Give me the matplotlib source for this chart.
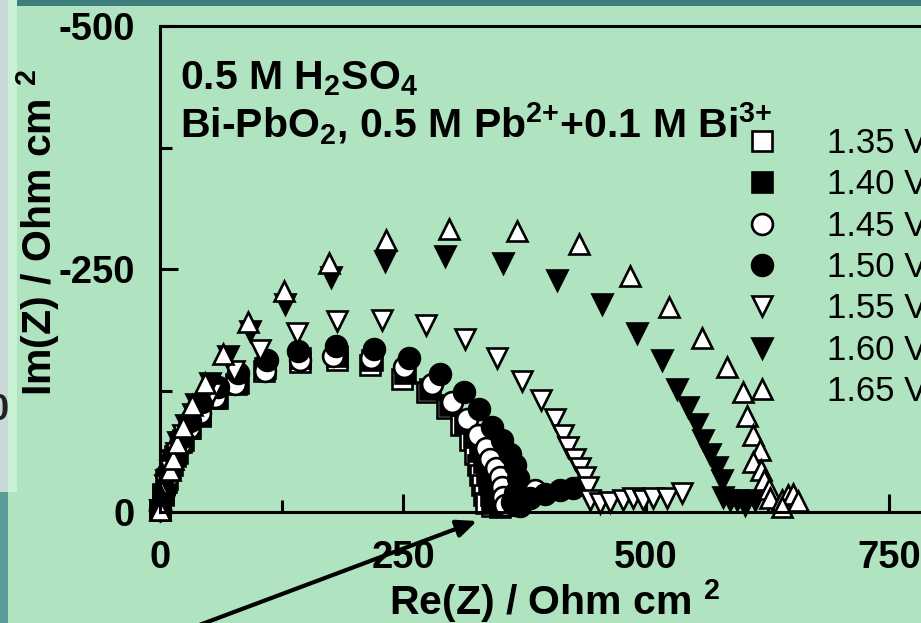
import matplotlib
matplotlib.use("Agg")
import matplotlib.pyplot as plt
from matplotlib.ticker import FixedLocator

plt.rcParams['font.family'] = ['Liberation Sans', 'DejaVu Sans']
plt.rcParams['axes.unicode_minus'] = False
plt.rcParams['mathtext.fontset'] = 'custom'
plt.rcParams['mathtext.rm'] = 'Liberation Sans'
plt.rcParams['mathtext.bf'] = 'Liberation Sans:bold'
plt.rcParams['mathtext.it'] = 'Liberation Sans:italic'

# Impedance spectra, Re(Z) and Im(Z) in Ohm cm^2
potentials = ['1.35 V', '1.40 V', '1.45 V', '1.50 V', '1.55 V', '1.60 V', '1.65 V']

re_135 = [0, 3, 6, 10, 15, 22, 30, 41, 57, 78, 107, 144, 182, 216, 249, 275, 295, 310,
          319, 324, 327, 329, 331, 333, 335, 342, 350]
im_135 = [-2, -17, -31, -45, -58, -72, -86, -100, -117, -132, -145, -154, -156, -151, -137,
          -123, -107, -89, -74, -60, -48, -38, -28, -17, -9, -6, -8]

re_140 = [0, 3, 7, 12, 17, 24, 31, 41, 59, 80, 108, 144, 182, 218, 252, 278, 298, 314,
          323, 329, 333, 336, 338, 341, 343, 350, 358]
im_140 = [-2, -19, -34, -48, -61, -74, -86, -99, -117, -133, -148, -158, -160, -156, -143,
          -127, -110, -92, -77, -63, -51, -40, -29, -18, -9, -5, -7]

re_145 = [0, 4, 8, 13, 21, 30, 41, 57, 77, 108, 144, 178, 217, 251, 280, 300, 316, 327,
          335, 340, 346, 350, 352, 353, 355, 365, 375, 386]
im_145 = [-2, -21, -37, -53, -70, -86, -102, -118, -132, -145, -156, -160, -158, -149, -132,
          -113, -96, -79, -66, -55, -45, -36, -26, -15, -7, -7, -15, -23]

re_150 = [0, 4, 8, 14, 22, 31, 43, 60, 80, 110, 142, 181, 220, 256, 288, 313, 328, 342,
          352, 360, 365, 368, 365, 362, 370, 381, 396, 412, 425]
im_150 = [-2, -23, -41, -58, -76, -94, -113, -129, -143, -156, -166, -171, -168, -158, -142,
          -123, -106, -87, -74, -60, -48, -35, -20, -10, -6, -14, -19, -23, -25]

re_155 = [0, 5, 10, 16, 24, 34, 53, 76, 103, 141, 182, 228, 274, 314, 347, 372, 392, 406,
          415, 420, 427, 432, 437, 440, 442, 453, 463, 476, 487, 497, 507, 522, 537]
im_155 = [-2, -28, -43, -61, -79, -101, -122, -145, -167, -184, -196, -198, -192, -178, -158,
          -135, -115, -96, -79, -67, -55, -45, -36, -26, -12, -9, -10, -12, -14, -12, -14,
          -14, -20]

re_160 = [0, 6, 12, 19, 27, 37, 51, 70, 93, 129, 176, 231, 293, 353, 408, 455, 491, 516,
          532, 543, 552, 559, 566, 573, 578, 579, 586, 594, 602, 612]
im_160 = [-2, -33, -53, -72, -90, -111, -133, -160, -186, -214, -242, -258, -263, -256, -239,
          -214, -184, -156, -127, -108, -91, -74, -60, -46, -33, -15, -12, -12, -7, -12]

re_165 = [0, 10, 13, 17, 24, 33, 46, 65, 91, 128, 174, 233, 297, 367, 431, 484, 524, 558,
          583, 600, 604, 610, 617, 610, 618, 621, 627, 628, 640, 646, 651, 656, 640]
im_165 = [-2, -43, -55, -71, -87, -110, -133, -163, -195, -227, -256, -280, -291, -289, -276,
          -243, -211, -179, -149, -123, -99, -79, -64, -51, -43, -33, -24, -14, -12, -17,
          -19, -11, -5]

series = [
    (re_135, im_135, 's', 'white'),
    (re_140, im_140, 's', 'black'),
    (re_145, im_145, 'o', 'white'),
    (re_150, im_150, 'o', 'black'),
    (re_155, im_155, 'v', 'white'),
    (re_160, im_160, 'v', 'black'),
    (re_165, im_165, '^', 'white'),
]

W, H = 921, 623
bg = '#b0e4c0'
fig = plt.figure(figsize=(W / 100, H / 100), dpi=100, facecolor=bg)

# slide decorations around the plot
fig.patches.append(plt.Rectangle((16 / W, 1 - 6 / H), 1, 6 / H, transform=fig.transFigure,
                                 facecolor='#3e7f7d', edgecolor='none', zorder=0))
fig.patches.append(plt.Rectangle((0, 1 - 492 / H), 8 / W, 492 / H, transform=fig.transFigure,
                                 facecolor='#c9d9d8', edgecolor='none', zorder=0))
fig.patches.append(plt.Rectangle((8 / W, 1 - 492 / H), 9 / W, 492 / H, transform=fig.transFigure,
                                 facecolor='#c8f2d4', edgecolor='none', zorder=0))
fig.patches.append(plt.Rectangle((0, 0), 8 / W, 1 - 492 / H, transform=fig.transFigure,
                                 facecolor='#5a9a97', edgecolor='none', zorder=0))
fig.text(9 / W, 1 - 411 / H, '0', ha='right', va='center', fontsize=26,
         fontweight='bold', color='#222222')

x_max = 1000
left_px, right_px = 160, 160 + x_max * 243 / 250
ax = fig.add_axes([left_px / W, (H - 512) / H, (right_px - left_px) / W, (512 - 26) / H])
ax.set_facecolor('none')

for (re, im, mk, fc), lab in zip(series, potentials):
    ax.plot(re, im, linestyle='none', marker=mk, markersize=15, markerfacecolor=fc,
            markeredgecolor='black', markeredgewidth=1.9, clip_on=False, label=lab)

ax.set_xlim(0, x_max)
ax.set_ylim(0, -500)

ax.xaxis.set_major_locator(FixedLocator([0, 250, 500, 750, 1000]))
ax.xaxis.set_minor_locator(FixedLocator([125, 375, 625, 875]))
ax.yaxis.set_major_locator(FixedLocator([0, -250, -500]))
ax.yaxis.set_minor_locator(FixedLocator([-125, -375]))
ax.set_xticklabels(['0', '250', '500', '750', '1000'])
ax.set_yticklabels(['0', '-250', '-500'])

for s in ax.spines.values():
    s.set_linewidth(2.2)
ax.tick_params(which='both', direction='in', width=2.2, top=False, right=False)
ax.tick_params(which='major', length=13)
ax.tick_params(which='minor', length=8.5)
ax.tick_params(axis='x', which='major', pad=20, labelsize=27.5)
ax.tick_params(axis='y', which='major', pad=18, labelsize=27.5)
for t in ax.get_xticklabels() + ax.get_yticklabels():
    t.set_fontweight('bold')

fig.text(555 / W, 1 - 615 / H, r'Re(Z) / Ohm cm $^{\mathbf{2}}$', ha='center', va='baseline',
         fontsize=29.5, fontweight='bold')
fig.text(38 / W, 1 - 233 / H, r'Im(Z) / Ohm cm $^{\mathbf{2}}$', ha='center', va='center',
         rotation=90, fontsize=29.5, fontweight='bold')

fig.text(180 / W, 1 - 89 / H, r'0.5 M H$_\mathbf{2}$SO$_\mathbf{4}$', ha='left', va='baseline',
         fontsize=29.5, fontweight='bold')
fig.text(180 / W, 1 - 137 / H,
         r'Bi-PbO$_\mathbf{2}$, 0.5 M Pb$^{\mathbf{2}\mathbf{+}}$+0.1 M Bi$^{\mathbf{3}\mathbf{+}}$',
         ha='left', va='baseline', fontsize=29.5, fontweight='bold')

leg = ax.legend(loc='upper left', bbox_to_anchor=(745 / W, 1 - 127 / H),
                bbox_transform=fig.transFigure, frameon=False, fontsize=25,
                handlelength=1.0, handletextpad=1.35, labelspacing=0.24, borderpad=0,
                borderaxespad=0, numpoints=1)

ax.annotate('', xy=(477 / W, 1 - 521 / H), xytext=(186 / W, 1 - 630 / H),
            xycoords='figure fraction', textcoords='figure fraction', annotation_clip=False,
            arrowprops=dict(arrowstyle='-|>,head_length=0.5,head_width=0.22', lw=3,
                            color='black', mutation_scale=24, shrinkA=0, shrinkB=0))

fig.savefig('out.png', dpi=100, facecolor=bg)
